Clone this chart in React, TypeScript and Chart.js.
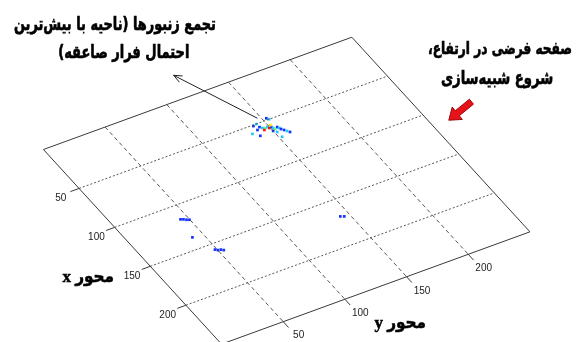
import React, { useEffect, useRef } from "react";
import { Chart, registerables } from "chart.js";

Chart.register(...registerables);

const W = 579;
const H = 342;

// ---- data ----
const xRange = [0, 250];
const yRange = [0, 250];
const xTicks = [50, 100, 150, 200];
const yTicks = [50, 100, 150, 200];
const xTickLabels = ["50", "100", "150", "200"];
const yTickLabels = ["50", "100", "150", "200"];

// bee positions on the plane (x, y) and density level (colour index)
const beeX = [51.1, 50.2, 54.2, 56.1, 57.2, 56.9, 58.5, 58.3, 59.9, 61.5, 60.4, 62.0, 63.6, 65.6, 67.6, 48.1, 50.0, 58.3, 62.9, 71.5, 58.7, 56.3, 62.7, 56.1, 65.1, 69.6,
  115.4, 116.4, 117.9, 118.9, 136.9, 156.6, 158.1, 158.7, 160.2, 168.6, 170.0];
const beeY = [140.7, 143.6, 143.8, 145.1, 146.9, 148.6, 149.3, 151.0, 151.7, 152.3, 154.6, 155.3, 155.9, 157.2, 158.4, 152.9, 154.1, 135.8, 139.5, 152.2, 145.2, 141.0, 150.0, 151.5, 151.9, 159.7,
  44.5, 46.3, 47.9, 49.7, 41.7, 48.6, 50.1, 52.2, 53.7, 143.3, 145.7];
const beeLevel = [1, 2, 1, 2, 3, 2, 5, 1, 2, 3, 1, 2, 1, 1, 2, 1, 2, 2, 1, 2, 5, 1, 1, 4, 2, 1,
  1, 1, 1, 1, 1, 1, 1, 1, 1, 1, 1];
const jetColors = ["#00008f", "#1430ff", "#1ec8ff", "#6cff8a", "#ffe600", "#ff1a00"];

const xAxisTitle = "محور x";
const yAxisTitle = "محور y";
const noteCluster = ["تجمع زنبورها (ناحیه با بیش‌ترین", "احتمال فرار صاعقه)"];
const notePlane = ["صفحه فرضی در ارتفاع،", "شروع شبیه‌سازی"];

// ---- layout (screen positions of the plane corners and notes) ----
const LEFT = [40, 149];
const BOTTOM = [220.6, 348.3];
const RIGHT = [533.3, 233.3];
const TOP = [352.7, 34];
// [left, right, centreY] boxes for the note lines
const noteClusterBox = [[10, 215, 22], [55, 188, 50]];
const notePlaneBox = [[430, 576, 47], [443, 557, 77]];
const NOTE_FONT = "'DejaVu Sans Condensed', 'DejaVu Sans', sans-serif";

function proj(x: number, y: number) {
  const u = (x - xRange[0]) / (xRange[1] - xRange[0]);
  const v = (y - yRange[0]) / (yRange[1] - yRange[0]);
  const px = (1 - u) * (1 - v) * LEFT[0] + u * (1 - v) * BOTTOM[0] + u * v * RIGHT[0] + (1 - u) * v * TOP[0];
  const py = (1 - u) * (1 - v) * LEFT[1] + u * (1 - v) * BOTTOM[1] + u * v * RIGHT[1] + (1 - u) * v * TOP[1];
  return { x: px, y: py };
}

const lineDs = (data: any[], dash: number[], color: string) => ({
  type: "line" as const,
  data,
  showLine: true,
  borderColor: color,
  borderWidth: 1,
  borderDash: dash,
  pointRadius: 0,
  fill: false,
  clip: false as any,
  tension: 0,
});

export default function App() {
  const ref = useRef<HTMLCanvasElement | null>(null);

  useEffect(() => {
    if (!ref.current) return;
    const [x0, x1] = xRange;
    const [y0, y1] = yRange;
    const datasets: any[] = [];

    yTicks.forEach((yt) => datasets.push(lineDs([proj(x0, yt), proj(x1, yt)], [4, 3], "rgba(70,70,70,0.9)")));
    xTicks.forEach((xt) => datasets.push(lineDs([proj(xt, y0), proj(xt, y1)], [2, 2], "rgba(70,70,70,0.9)")));
    datasets.push(lineDs([proj(x0, y0), proj(x1, y0), proj(x1, y1), proj(x0, y1), proj(x0, y0)], [], "#3a3a3a"));
    xTicks.forEach((xt) => datasets.push(lineDs([proj(xt, y0), proj(xt, y0 - 7)], [], "#3a3a3a")));
    yTicks.forEach((yt) => datasets.push(lineDs([proj(x1, yt), proj(x1 + 7.5, yt)], [], "#3a3a3a")));

    datasets.push({
      type: "scatter",
      data: beeX.map((bx, i) => proj(bx, beeY[i])),
      pointRadius: 1.9,
      pointStyle: "rect",
      pointBorderWidth: 0,
      pointBackgroundColor: beeLevel.map((l) => jetColors[l]),
      backgroundColor: beeLevel.map((l) => jetColors[l]),
      borderWidth: 0,
      clip: false,
    });

    const textPlugin = {
      id: "planeText",
      afterDatasetsDraw(chart: any) {
        const ctx = chart.ctx as CanvasRenderingContext2D;
        const sx = chart.scales.x;
        const sy = chart.scales.y;
        const P = (p: { x: number; y: number }) => ({ x: sx.getPixelForValue(p.x), y: sy.getPixelForValue(p.y) });
        const s = (x: number, y: number) => ({ x: sx.getPixelForValue(x), y: sy.getPixelForValue(y) });
        ctx.save();
        ctx.fillStyle = "#222";
        ctx.font = "10px 'Liberation Sans', Arial, sans-serif";
        ctx.textAlign = "center";
        ctx.textBaseline = "middle";
        xTicks.forEach((xt, i) => {
          const p = P(proj(xt + 3.5, y0 - 16.8));
          ctx.fillText(xTickLabels[i], p.x, p.y);
        });
        yTicks.forEach((yt, i) => {
          const p = P(proj(x1 + 18.9, yt + 1.6));
          ctx.fillText(yTickLabels[i], p.x, p.y);
        });

        ctx.fillStyle = "#000";
        ctx.strokeStyle = "#000";
        ctx.lineWidth = 0.5;
        ctx.direction = "rtl";
        ctx.font = "bold 17px 'Liberation Serif', " + NOTE_FONT;
        let p = P(proj(139, -44));
        ctx.fillText(xAxisTitle, p.x, p.y);
        ctx.strokeText(xAxisTitle, p.x, p.y);
        p = P(proj(293, 120));
        ctx.fillText(yAxisTitle, p.x, p.y);
        ctx.strokeText(yAxisTitle, p.x, p.y);

        const drawFit = (txt: string, box: number[]) => {
          const a = s(box[0], box[2]);
          const b = s(box[1], box[2]);
          const target = b.x - a.x;
          ctx.font = `bold 15px ${NOTE_FONT}`;
          const w = ctx.measureText(txt).width;
          const size = Math.min(17, (15 * target) / w);
          ctx.font = `bold ${size.toFixed(2)}px ${NOTE_FONT}`;
          ctx.save();
          ctx.translate((a.x + b.x) / 2, a.y);
          ctx.scale(1, 1.25);
          ctx.fillText(txt, 0, 0);
          ctx.strokeText(txt, 0, 0);
          ctx.restore();
        };
        noteCluster.forEach((t, i) => drawFit(t, noteClusterBox[i]));
        notePlane.forEach((t, i) => drawFit(t, notePlaneBox[i]));

        // black pointer arrow
        const a = s(257, 117);
        const b = s(172, 73);
        ctx.strokeStyle = "#222";
        ctx.lineWidth = 1;
        ctx.beginPath();
        ctx.moveTo(a.x, a.y);
        ctx.lineTo(b.x, b.y);
        const ang = Math.atan2(b.y - a.y, b.x - a.x);
        const hl = 9;
        ctx.moveTo(b.x - hl * Math.cos(ang - 0.4), b.y - hl * Math.sin(ang - 0.4));
        ctx.lineTo(b.x, b.y);
        ctx.lineTo(b.x - hl * Math.cos(ang + 0.4), b.y - hl * Math.sin(ang + 0.4));
        ctx.stroke();

        // red block arrow
        const t0 = s(474, 100);
        const t1 = s(451, 119);
        const dx = t1.x - t0.x;
        const dy = t1.y - t0.y;
        const len = Math.hypot(dx, dy);
        const ux = dx / len, uy = dy / len;
        const nx = -uy, ny = ux;
        const headL = 11, sw = 3.2, hw = 8;
        const hb = { x: t1.x - ux * headL, y: t1.y - uy * headL };
        ctx.beginPath();
        ctx.moveTo(t0.x + nx * sw, t0.y + ny * sw);
        ctx.lineTo(hb.x + nx * sw, hb.y + ny * sw);
        ctx.lineTo(hb.x + nx * hw, hb.y + ny * hw);
        ctx.lineTo(t1.x, t1.y);
        ctx.lineTo(hb.x - nx * hw, hb.y - ny * hw);
        ctx.lineTo(hb.x - nx * sw, hb.y - ny * sw);
        ctx.lineTo(t0.x - nx * sw, t0.y - ny * sw);
        ctx.closePath();
        ctx.fillStyle = "#e8121a";
        ctx.fill();
        ctx.strokeStyle = "#9a0a0a";
        ctx.stroke();
        ctx.restore();
      },
    };

    const chart = new Chart(ref.current, {
      type: "scatter",
      data: { datasets },
      options: {
        animation: false,
        responsive: true,
        maintainAspectRatio: false,
        layout: { padding: 0 },
        plugins: { legend: { display: false }, tooltip: { enabled: false } },
        scales: {
          x: { type: "linear", min: 0, max: W, display: false },
          y: { type: "linear", min: 0, max: H, reverse: true, display: false },
        },
      },
      plugins: [textPlugin],
    });
    return () => chart.destroy();
  }, []);

  return (
    <div style={{ position: "absolute", left: 0, top: 0, width: W, height: H, background: "#fff" }}>
      <canvas ref={ref} />
    </div>
  );
}
